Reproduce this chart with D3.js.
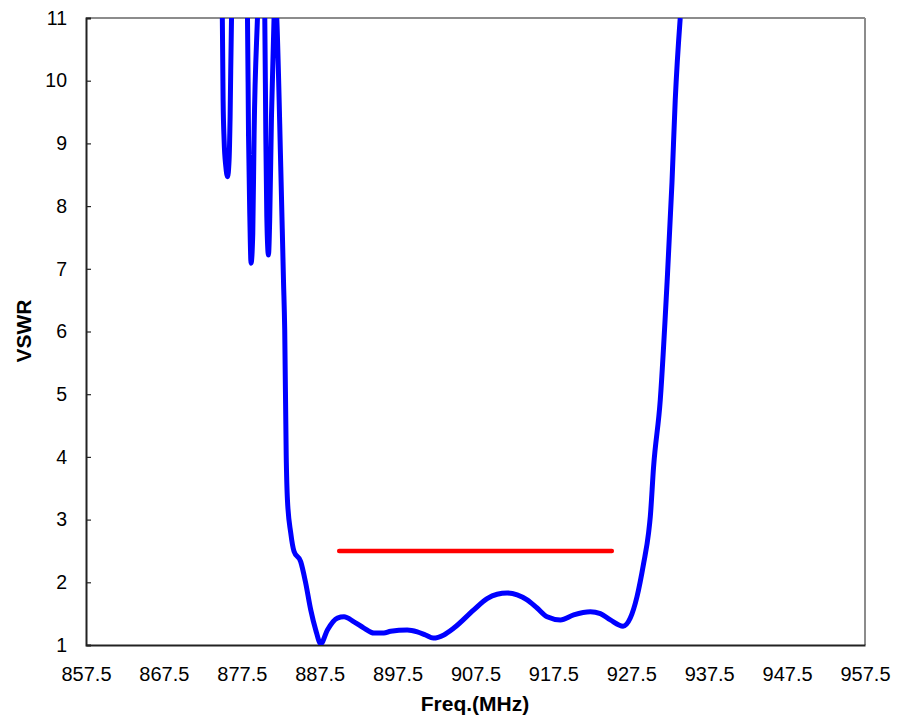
<!DOCTYPE html>
<html>
<head>
<meta charset="utf-8">
<script src="https://cdn.jsdelivr.net/npm/d3@7"></script>
<style>
  html, body { margin: 0; padding: 0; background: #fff; }
  svg { display: block; font-family: "Liberation Sans", Arial, sans-serif; }
</style>
</head>
<body>
<svg id="chart" width="897" height="719"></svg>
<script>
// ---- data ----
const freq = [
  875.0, 875.10, 875.23, 875.45, 875.67, 875.87, 876.0, 876.18,
  877.2,
  878.23, 878.36, 878.53, 878.69, 878.91, 879.08, 879.51,
  880.0,
  880.45, 880.58, 880.71, 880.92, 881.09, 881.31, 881.64,
  881.82,
  881.99, 882.5, 882.85, 883.01, 883.2, 883.36, 883.78, 884.21, 885.06, 885.7, 886.35, 886.99, 887.63,
  888.49, 889.77, 890.62, 891.9, 893.18, 894.46, 895.74, 896.6, 898.74, 900.03, 901.09, 902.08,
  903.44, 904.72, 907.28, 908.99, 910.28, 911.56, 912.85, 914.13, 915.41, 916.69, 918.4, 920.1,
  922.24, 923.53, 924.81, 926.44, 927.37, 928.23, 929.08, 929.72, 929.94, 930.36, 931.22, 932.1,
  932.72, 933.14, 933.78
];
const vswr = [
  11.0, 9.69, 9.05, 8.63, 8.47, 8.74, 9.43, 11.0,
  13.0,
  11.0, 9.16, 7.83, 7.09, 7.57, 9.16, 11.0,
  12.5,
  11.0, 9.16, 7.83, 7.22, 7.83, 9.43, 11.0,
  11.4,
  11.0, 8.63, 6.82, 6.02, 4.03, 3.31, 2.79, 2.49, 2.33, 1.99, 1.56, 1.24, 1.02,
  1.24, 1.43, 1.45, 1.37, 1.27, 1.19, 1.19, 1.22, 1.24, 1.21, 1.16, 1.11,
  1.16, 1.27, 1.56, 1.74, 1.81, 1.83, 1.80, 1.72, 1.59, 1.45, 1.40, 1.48,
  1.53, 1.50, 1.40, 1.30, 1.43, 1.77, 2.30, 2.79, 3.05, 3.84, 4.91, 6.8,
  8.37, 9.69, 11.0
];
const specFreq = [890, 925];
const specVswr = [2.5, 2.5];
const xTicks = [857.5, 867.5, 877.5, 887.5, 897.5, 907.5, 917.5, 927.5, 937.5, 947.5, 957.5];
const yTicks = [1, 2, 3, 4, 5, 6, 7, 8, 9, 10, 11];
const xTitle = "Freq.(MHz)";
const yTitle = "VSWR";

// ---- layout ----
const svg = d3.select("#chart");
const L = 86, R = 865, T = 18, B = 645;
const x = d3.scaleLinear().domain([857.5, 957.5]).range([L, R]);
const y = d3.scaleLinear().domain([1, 11]).range([B, T]);

svg.append("defs").append("clipPath").attr("id", "clip")
  .append("rect").attr("x", L).attr("y", T).attr("width", R - L).attr("height", B - T);

// frame: top & right gray
svg.append("line").attr("x1", L).attr("x2", R).attr("y1", T).attr("y2", T)
  .attr("stroke", "#8c8c8c").attr("stroke-width", 2);
svg.append("line").attr("x1", R).attr("x2", R).attr("y1", T).attr("y2", B)
  .attr("stroke", "#8c8c8c").attr("stroke-width", 2);

// y axis (inner ticks)
const yAxis = d3.axisLeft(y).tickValues(yTicks).tickSize(-5).tickPadding(19).tickFormat(d3.format("d"));
const gy = svg.append("g").attr("transform", `translate(${L},0)`).call(yAxis);
gy.select(".domain").attr("stroke", "#222").attr("stroke-width", 2);
gy.selectAll(".tick line").attr("stroke", "#222").attr("stroke-width", 1.2);
gy.selectAll(".tick text").attr("font-size", 19.5).attr("fill", "#000")
  .attr("font-family", "Liberation Sans, Arial, sans-serif");

// x axis (no tick marks)
const xAxis = d3.axisBottom(x).tickValues(xTicks).tickSize(0).tickPadding(22).tickFormat(d3.format(".1f"));
const gx = svg.append("g").attr("transform", `translate(0,${B})`).call(xAxis);
gx.select(".domain").attr("stroke", "#222").attr("stroke-width", 2);
gx.selectAll(".tick text").attr("font-size", 20).attr("fill", "#000")
  .attr("font-family", "Liberation Sans, Arial, sans-serif");

// titles
svg.append("text").attr("x", 475).attr("y", 711).attr("text-anchor", "middle")
  .attr("font-size", 21).attr("font-weight", "bold").text(xTitle);
svg.append("text").attr("transform", `translate(31,331) rotate(-90)`).attr("text-anchor", "middle")
  .attr("font-size", 21).attr("font-weight", "bold").text(yTitle);

// data
const pts = freq.map((f, i) => [f, vswr[i]]);
const lineGen = d3.line().x(d => x(d[0])).y(d => y(d[1])).curve(d3.curveMonotoneX);
svg.append("path").datum(pts).attr("clip-path", "url(#clip)")
  .attr("d", lineGen).attr("fill", "none").attr("stroke", "#0000ff")
  .attr("stroke-width", 5).attr("stroke-linejoin", "round");

const spec = specFreq.map((f, i) => [f, specVswr[i]]);
svg.append("path").datum(spec)
  .attr("d", d3.line().x(d => x(d[0])).y(d => y(d[1])))
  .attr("fill", "none").attr("stroke", "#ff0000").attr("stroke-width", 4.5)
  .attr("stroke-linecap", "round");
</script>
</body>
</html>
